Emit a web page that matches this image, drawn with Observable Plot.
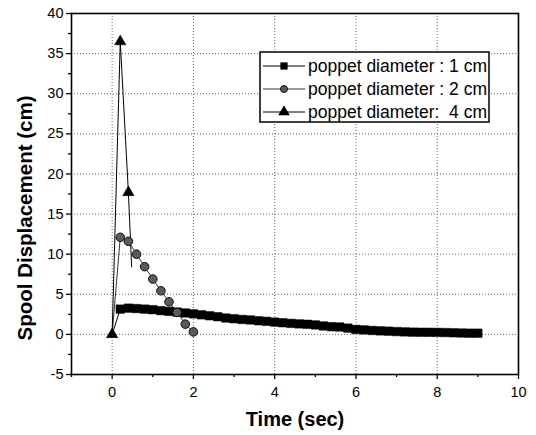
<!DOCTYPE html>
<html><head><meta charset="utf-8">
<script src="https://cdn.jsdelivr.net/npm/d3@7"></script>
<script src="https://cdn.jsdelivr.net/npm/@observablehq/plot@0.6"></script>
<style>
body{margin:0;background:#fff;font-family:"Liberation Sans",Arial,sans-serif;}
#wrap{position:relative;width:536px;height:435px;}
</style></head><body><div id="wrap"></div>
<script>
// Series 1: poppet diameter 1 cm (squares)
const time1 = [0,0.2,0.4,0.6,0.8,1.0,1.2,1.4,1.6,1.8,2.0,2.2,2.4,2.6,2.8,3.0,3.2,3.4,3.6,3.8,4.0,4.2,4.4,4.6,4.8,5.0,5.2,5.4,5.6,5.8,6.0,6.2,6.4,6.6,6.8,7.0,7.2,7.4,7.6,7.8,8.0,8.2,8.4,8.6,8.8,9.0];
const disp1 = [0,3.15,3.27,3.22,3.15,3.08,2.96,2.87,2.78,2.67,2.56,2.44,2.32,2.2,2.04,1.95,1.86,1.8,1.7,1.63,1.53,1.45,1.37,1.31,1.26,1.18,1.05,0.96,0.92,0.78,0.62,0.56,0.49,0.44,0.4,0.35,0.31,0.28,0.27,0.26,0.25,0.23,0.2,0.17,0.15,0.15];
// Series 2: poppet diameter 2 cm (circles)
const time2 = [0,0.2,0.4,0.6,0.8,1.0,1.2,1.4,1.6,1.8,2.0];
const disp2 = [0,12.1,11.6,10.0,8.44,6.9,5.44,4.06,2.73,1.28,0.31];
// Series 3: poppet diameter 4 cm (triangles)
const time3 = [0,0.2,0.4,0.48];
const disp3 = [0,36.5,17.7,8.4];
const marked3 = [true,true,true,false];

const seriesNames = ["poppet diameter : 1 cm","poppet diameter : 2 cm","poppet diameter:  4 cm"];
const xTicks = [0,2,4,6,8,10];
const xMinor = [-1,1,3,5,7,9];
const xGrid = [0,2,4,6,8];
const yTicks = [-5,0,5,10,15,20,25,30,35,40];
const yMinor = [-2.5,2.5,7.5,12.5,17.5,22.5,27.5,32.5,37.5];
const yGrid = [0,5,10,15,20,25,30,35];
const xTitle = "Time (sec)";
const yTitle = "Spool Displacement (cm)";

const s1 = time1.map((t,i)=>({t, v:disp1[i]}));
const s2 = time2.map((t,i)=>({t, v:disp2[i]}));
const s3 = time3.map((t,i)=>({t, v:disp3[i], m:marked3[i]}));

const chart = Plot.plot({
  width:536, height:435,
  marginLeft:71, marginRight:18, marginTop:13, marginBottom:61,
  x:{domain:[-1,10]}, y:{domain:[-5,40]},
  style:{fontFamily:"Liberation Sans, Arial, sans-serif", fontSize:"14px", color:"#000", background:"#fff"},
  marks:[
    Plot.gridX(xGrid,{stroke:"#666", strokeOpacity:1, strokeDasharray:"1,2"}),
    Plot.gridY(yGrid,{stroke:"#666", strokeOpacity:1, strokeDasharray:"1,2"}),
    Plot.axisX(xTicks,{tickSize:5, tickPadding:7, fontSize:14.5, label:null, tickFormat:d=>String(d), strokeWidth:1.3}),
    Plot.axisX(xMinor,{tickSize:3, label:null, tickFormat:()=>"", strokeWidth:1.3}),
    Plot.axisY(yTicks,{tickSize:5, tickPadding:3, fontSize:14.5, label:null, tickFormat:d=>String(d), strokeWidth:1.3}),
    Plot.axisY(yMinor,{tickSize:3, label:null, tickFormat:()=>"", strokeWidth:1.3}),
    Plot.frame({stroke:"#000", strokeWidth:1.6}),
    Plot.line(s1,{x:"t", y:"v", stroke:"#000", strokeWidth:1}),
    Plot.line(s2,{x:"t", y:"v", stroke:"#333", strokeWidth:1}),
    Plot.line(s3,{x:"t", y:"v", stroke:"#000", strokeWidth:1}),
    Plot.dot(s1.slice(1),{x:"t", y:"v", symbol:"square", r:4.8, fill:"#000", stroke:"#000", strokeWidth:0.5}),
    Plot.dot(s2.slice(1),{x:"t", y:"v", symbol:"circle", r:4.3, fill:"#5a5a5a", stroke:"#111", strokeWidth:1}),
    Plot.dot(s3.filter(d=>d.m),{x:"t", y:"v", symbol:"triangle", r:4.2, fill:"#000", stroke:"#000", strokeWidth:0.5}),
    Plot.text([xTitle],{frameAnchor:"bottom", dy:45, fontWeight:"bold", fontSize:20, lineAnchor:"middle", textAnchor:"middle"}),
    Plot.text([yTitle],{frameAnchor:"left", dx:-46, dy:24, rotate:-90, fontWeight:"bold", fontSize:20.5, lineAnchor:"middle", textAnchor:"middle"})
  ]
});
const wrap = document.getElementById("wrap");
wrap.appendChild(chart);

// Legend overlay
const lg = d3.create("svg").attr("width",232).attr("height",73)
  .style("position","absolute").style("left","259px").style("top","51px");
lg.append("rect").attr("x",1).attr("y",1).attr("width",229).attr("height",70)
  .attr("fill","#fff").attr("stroke","#000").attr("stroke-width",1.5);
const sym = [d3.symbolSquare, d3.symbolCircle, d3.symbolTriangle];
const symFill = ["#000","#5a5a5a","#000"];
const lineCol = ["#000","#333","#000"];
seriesNames.forEach((name,i)=>{
  const cy = 15 + i*23;
  lg.append("line").attr("x1",4).attr("x2",46).attr("y1",cy).attr("y2",cy).attr("stroke",lineCol[i]).attr("stroke-width",1);
  lg.append("path").attr("d", d3.symbol(sym[i], i===1?38:(i===0?45:50))()).attr("transform",`translate(25,${cy})`)
    .attr("fill",symFill[i]).attr("stroke", i===1?"#111":"#000").attr("stroke-width",i===1?1:0.5);
  lg.append("text").attr("x",49).attr("y",cy).attr("dy","0.36em").attr("font-size",17.5)
    .attr("font-family","Liberation Sans, Arial, sans-serif").style("white-space","pre").text(name);
});
wrap.appendChild(lg.node());
</script></body></html>
